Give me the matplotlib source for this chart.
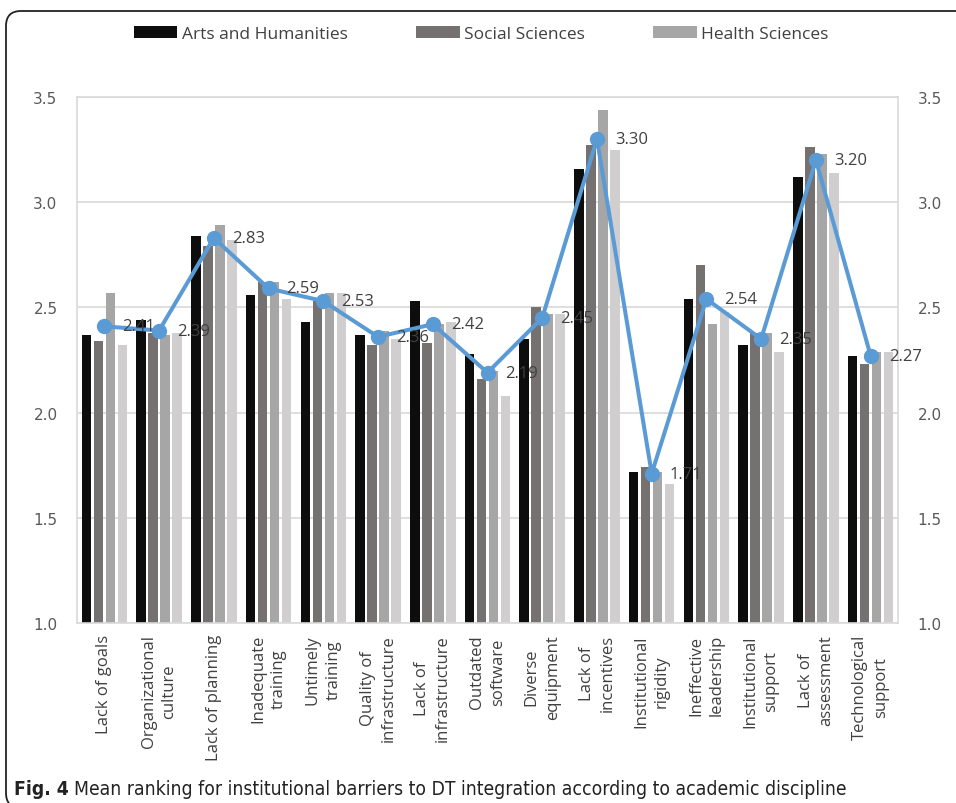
import matplotlib
matplotlib.use("Agg")
import matplotlib.pyplot as plt
from matplotlib.patches import Patch, FancyBboxPatch
import numpy as np

categories = ["Lack of goals", "Organizational\nculture", "Lack of planning",
              "Inadequate\ntraining", "Untimely\ntraining", "Quality of\ninfrastructure",
              "Lack of\ninfrastructure", "Outdated\nsoftware", "Diverse\nequipment",
              "Lack of\nincentives", "Institutional\nrigidity", "Ineffective\nleadership",
              "Institutional\nsupport", "Lack of\nassessment", "Technological\nsupport"]

arts = [2.37, 2.44, 2.84, 2.56, 2.43, 2.37, 2.53, 2.28, 2.35, 3.16, 1.72, 2.54, 2.32, 3.12, 2.27]
social = [2.34, 2.38, 2.79, 2.62, 2.53, 2.32, 2.33, 2.16, 2.50, 3.27, 1.74, 2.70, 2.38, 3.26, 2.23]
health = [2.57, 2.37, 2.89, 2.62, 2.57, 2.39, 2.42, 2.20, 2.47, 3.44, 1.72, 2.42, 2.38, 3.23, 2.29]
other = [2.32, 2.38, 2.82, 2.54, 2.57, 2.35, 2.43, 2.08, 2.47, 3.25, 1.66, 2.48, 2.29, 3.14, 2.29]
mean = [2.41, 2.39, 2.83, 2.59, 2.53, 2.36, 2.42, 2.19, 2.45, 3.30, 1.71, 2.54, 2.35, 3.20, 2.27]

series_names = ["Arts and Humanities", "Social Sciences", "Health Sciences"]
yticks = [1.0, 1.5, 2.0, 2.5, 3.0, 3.5]

colors = ["#0d0d0d", "#767171", "#a6a6a6", "#d0cece"]
line_color = "#5b9bd5"
text_color = "#404040"

fig = plt.figure(figsize=(9.56, 8.04), dpi=100)
ax = fig.add_axes([77/956, 1-624/804, 821/956, 526/804])

x = np.arange(len(categories))
slot = 0.219
bw = 0.174
for i, vals in enumerate([arts, social, health, other]):
    ax.bar(x + (i - 1.5) * slot, vals, width=bw, color=colors[i], zorder=2)

ax.plot(x, mean, color=line_color, lw=2.9, marker="o", markersize=10, zorder=4)
for xi, v in zip(x, mean):
    ax.annotate(f"{v:.2f}", (xi, v), xytext=(13, 0), textcoords="offset points",
                ha="left", va="center", fontsize=12, color=text_color,
                family="Open Sans", zorder=5, annotation_clip=False)

ax.set_xlim(-0.5, len(categories) - 0.5)
ax.set_ylim(1.0, 3.5)
ax.set_yticks(yticks)
ax.set_yticklabels([f"{t:.1f}" for t in yticks])
ax.grid(axis="y", color="#d9d9d9", lw=1.2, zorder=0)
ax.set_axisbelow(True)
for s in ax.spines.values():
    s.set_color("#d9d9d9")
    s.set_linewidth(1.2)
ax.tick_params(axis="y", length=0, pad=14, labelsize=11, labelcolor="#595959",
               labelright=True)
ax.set_xticks(x)
ax.set_xticklabels(categories, rotation=90, va="top", ha="center",
                   multialignment="center", fontsize=12, color=text_color,
                   family="Open Sans", linespacing=1.4)
ax.tick_params(axis="x", length=0, pad=8)

handles = [Patch(facecolor=colors[i], edgecolor="none") for i in range(3)]
fig.legend(handles, series_names, loc="center", bbox_to_anchor=(0.5035, 1 - 35/804),
           ncol=3, frameon=False, handlelength=2.5, handleheight=0.65,
           handletextpad=0.25, columnspacing=3.95,
           prop={"family": "Open Sans", "size": 12.5}, labelcolor=text_color)

frame = FancyBboxPatch((0.06, -0.05), 9.8, 7.97,
                       boxstyle="round,pad=0,rounding_size=0.15",
                       transform=fig.dpi_scale_trans, fill=False,
                       edgecolor="#222222", lw=1.3, clip_on=False)
fig.patches.append(frame)

cap_y = 1 - 790/804
cap_size = 13.9
t1 = fig.text(14/956, cap_y, "Fig. 4", fontsize=cap_size, color="#222222",
              va="center", ha="left", weight="bold", family="DejaVu Sans",
              fontstretch="condensed")
fig.canvas.draw()
bb = t1.get_window_extent(fig.canvas.get_renderer())
t2 = fig.text((bb.x1 + 5) / 956, cap_y,
              "Mean ranking for institutional barriers to DT integration according to academic discipline",
              fontsize=cap_size, color="#222222", va="center", ha="left",
              family="DejaVu Sans", fontstretch="condensed")

fig.savefig("out.png", dpi=100)
